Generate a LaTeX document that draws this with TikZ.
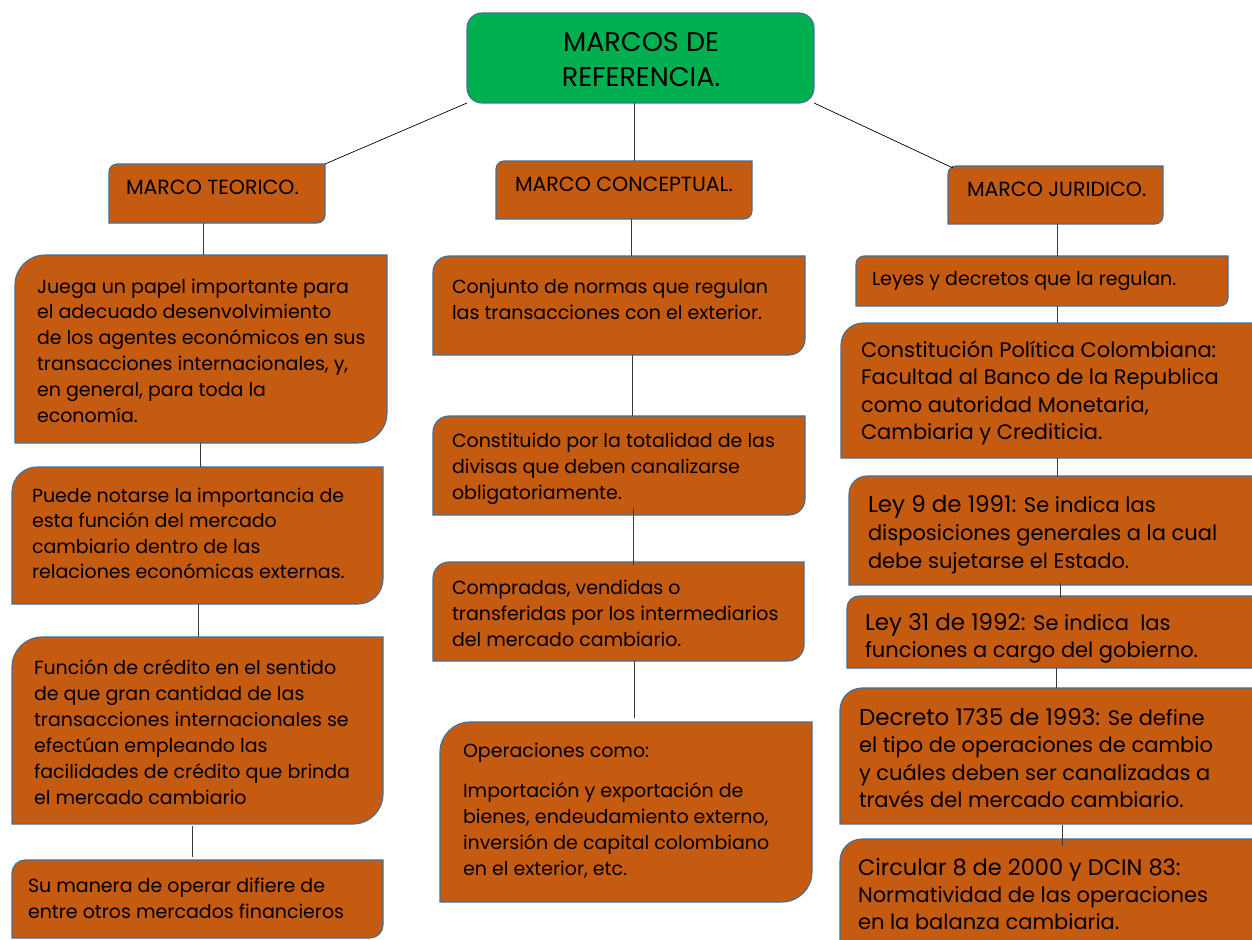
\documentclass[tikz,border=0pt]{standalone}
\usepackage{fontspec}
\setmainfont{Poppins}
\usetikzlibrary{fit,calc}
\definecolor{boxfill}{HTML}{C55A11}
\definecolor{boxline}{HTML}{41719C}
\definecolor{topfill}{HTML}{00B050}
\definecolor{linkc}{HTML}{3A3A3A}
\tikzset{
  area/.style={inner sep=0pt, outer sep=0pt},
  boxdraw/.style={draw=boxline, line width=1.1pt, fill=boxfill},
  txtnode/.style={anchor=north west, inner sep=0pt, outer sep=0pt, align=left, text=black},
  link/.style={draw=linkc, line width=0.9pt},
}
\newcommand\dshape[2]{%
  \draw[boxdraw] ([yshift=-#2]#1.north west)
    .. controls ([yshift={-0.45*#2}]#1.north west) and ([xshift={0.45*#2}]#1.north west) .. ([xshift=#2]#1.north west)
    -- (#1.north east) -- ([yshift=#2]#1.south east)
    .. controls ([yshift={0.45*#2}]#1.south east) and ([xshift={-0.45*#2}]#1.south east) .. ([xshift=-#2]#1.south east)
    -- (#1.south west) -- cycle;}
\newcommand\txt[6]{\node[txtnode, font=\fontsize{#4}{#5}\selectfont] (#1) at (#2,{#3-0.7*#5}) {\strut #6};}
\begin{document}
\begin{tikzpicture}[x=1pt,y=-1pt]
\useasboundingbox[fill=white] (0,0) rectangle (1252,939);
% areas
\node[area, fit={(467,13) (814,103)}] (g) {};
\node[area, fit={(109,164) (325,223)}] (teo) {};
\node[area, fit={(496,161) (752,219)}] (con) {};
\node[area, fit={(948,166) (1163,224)}] (jur) {};
\node[area, fit={(15,255) (387,443)}] (l1) {};
\node[area, fit={(12,467) (383,604)}] (l2) {};
\node[area, fit={(12,637) (383,824)}] (l3) {};
\node[area, fit={(12,860) (383,938)}] (l4) {};
\node[area, fit={(433,256) (805,355)}] (m1) {};
\node[area, fit={(433,416) (805,515)}] (m2) {};
\node[area, fit={(433,562) (804,661)}] (m3) {};
\node[area, fit={(440,722) (812,902)}] (m4) {};
\node[area, fit={(856,256) (1228,306)}] (r1) {};
\node[area, fit={(841,323) (1275,458)}] (r2) {};
\node[area, fit={(849,476) (1275,585)}] (r3) {};
\node[area, fit={(847,596) (1275,668)}] (r4) {};
\node[area, fit={(840,688) (1275,824)}] (r5) {};
\node[area, fit={(840,839) (1275,960)}] (r6) {};
% shapes
\draw[draw=boxline, line width=1.1pt, fill=topfill, rounded corners=15pt] (g.south west) rectangle (g.north east);
\dshape{teo}{8pt}
\dshape{con}{8pt}
\dshape{jur}{8pt}
\dshape{l1}{30pt}
\dshape{l2}{25pt}
\dshape{l3}{30pt}
\dshape{l4}{13pt}
\dshape{m1}{16pt}
\dshape{m2}{16pt}
\dshape{m3}{16pt}
\dshape{m4}{30pt}
\dshape{r1}{8pt}
\dshape{r2}{22pt}
\dshape{r3}{18pt}
\dshape{r4}{12pt}
\dshape{r5}{22pt}
\dshape{r6}{22pt}
% connectors
\draw[line width=0.7pt, black] (g.south west) -- (teo.north east);
\draw[line width=0.7pt, black] (g.south east) -- ([xshift=5pt,yshift=-2pt]jur.north west);
\draw[link] ([xshift=-6.5pt]g.south) -- ([xshift=-6.5pt]g.south |- con.north);
\draw[link] ([xshift=-14pt]teo.south) -- ([xshift=-14pt]teo.south |- l1.north);
\draw[link] ([xshift=-1pt]l1.south) -- ([xshift=-1pt]l1.south |- l2.north);
\draw[link] ([xshift=0.5pt]l2.south) -- ([xshift=0.5pt]l2.south |- l3.north);
\draw[link] ([xshift=-5.5pt,yshift=-2pt]l3.south) -- ([xshift=-5.5pt,yshift=3pt]l3.south |- l4.north);
\draw[link] ([xshift=7pt]con.south) -- ([xshift=7pt]con.south |- m1.north);
\draw[link] ([xshift=13pt]m1.south) -- ([xshift=13pt]m1.south |- m2.north);
\draw[link] ([xshift=14pt,yshift=7pt]m2.south) -- ([xshift=14pt,yshift=-3pt]m2.south |- m3.north);
\draw[link] ([xshift=16pt]m3.south) -- ([xshift=16pt,yshift=4pt]m3.south |- m4.north);
\draw[link] ([xshift=1.5pt]jur.south) -- ([xshift=1.5pt]jur.south |- r1.north);
\draw[link] ([xshift=15pt]r1.south) -- ([xshift=15pt]r1.south |- r2.north);
\draw[link] (r2.south -| r1.south) ++(15pt,0) coordinate (c23) -- (c23 |- r3.north);
\draw[link] ([xshift=-1pt,yshift=2pt]r3.south -| r4.south) ++(0,0) coordinate (c34) -- ([yshift=-2pt]c34 |- r4.north);
\draw[link] ([xshift=-5pt]r4.south -| r4.south) coordinate (c45) -- (c45 |- r5.north);
\draw[link] ([xshift=1pt,yshift=-1pt]r5.south -| r4.south) coordinate (c56) -- ([yshift=-7pt]c56 |- r6.north);
% texts
\node[anchor=center, inner sep=0pt, align=center, font=\fontsize{27}{35}\selectfont, text=black] (tg) at (641,60) {MARCOS DE\\REFERENCIA.};
\txt{tteo}{126}{194}{20.5}{24}{MARCO TEORICO.}
\txt{tcon}{515}{191}{20.5}{24}{MARCO CONCEPTUAL.}
\txt{tjur}{967}{196}{20.5}{24}{MARCO JURIDICO.}
\txt{tl1}{37}{293}{19}{25.8}{Juega un papel importante para\\el adecuado desenvolvimiento\\de los agentes económicos en sus\\transacciones internacionales, y,\\en general, para toda la\\economía.}
\txt{tl2}{32}{502}{19}{25.5}{Puede notarse la importancia de\\esta función del mercado\\cambiario dentro de las\\relaciones económicas externas.}
\txt{tl3}{34}{674}{19}{26}{Función de crédito en el sentido\\de que gran cantidad de las\\transacciones internacionales se\\efectúan empleando las\\facilidades de crédito que brinda\\el mercado cambiario}
\txt{tl4}{28}{892}{19}{26}{Su manera de operar difiere de\\entre otros mercados financieros}
\txt{tm1}{452}{293}{19}{26}{Conjunto de normas que regulan\\las transacciones con el exterior.}
\txt{tm2}{452}{447}{19}{26}{Constituido por la totalidad de las\\divisas que deben canalizarse\\obligatoriamente.}
\txt{tm3}{452}{594}{19}{26}{Compradas, vendidas o\\transferidas por los intermediarios\\del mercado cambiario.}
\txt{tm4}{463}{757}{19}{26}{Operaciones como:\\[14pt]Importación y exportación de\\bienes, endeudamiento externo,\\inversión de capital colombiano\\en el exterior, etc.}
\txt{tr1}{872}{285}{19}{26}{Leyes y decretos que la regulan.}
\txt{tr2}{861}{357}{21}{27.5}{Constitución Política Colombiana:\\Facultad al Banco de la Republica\\como autoridad Monetaria,\\Cambiaria y Crediticia.}
\txt{tr3}{868}{512}{21}{28}{{\fontsize{23}{28}\selectfont Ley 9 de 1991:} Se indica las\\disposiciones generales a la cual\\debe sujetarse el Estado.}
\begin{scope}
\clip (r4.south west) rectangle (r4.north east);
\txt{tr4}{865}{630}{21}{27}{{\fontsize{23}{27}\selectfont Ley 31 de 1992:} Se indica \ las\\funciones a cargo del gobierno.}
\end{scope}
\txt{tr5}{859}{725}{21}{27.5}{{\fontsize{23}{27.5}\selectfont Decreto 1735 de 1993:} Se define\\el tipo de operaciones de cambio\\y cuáles deben ser canalizadas a\\través del mercado cambiario.}
\txt{tr6}{858}{875}{21}{27}{{\fontsize{22.5}{27}\selectfont Circular 8 de 2000 y DCIN 83:}\\Normatividad de las operaciones\\en la balanza cambiaria.}
\end{tikzpicture}
\end{document}
